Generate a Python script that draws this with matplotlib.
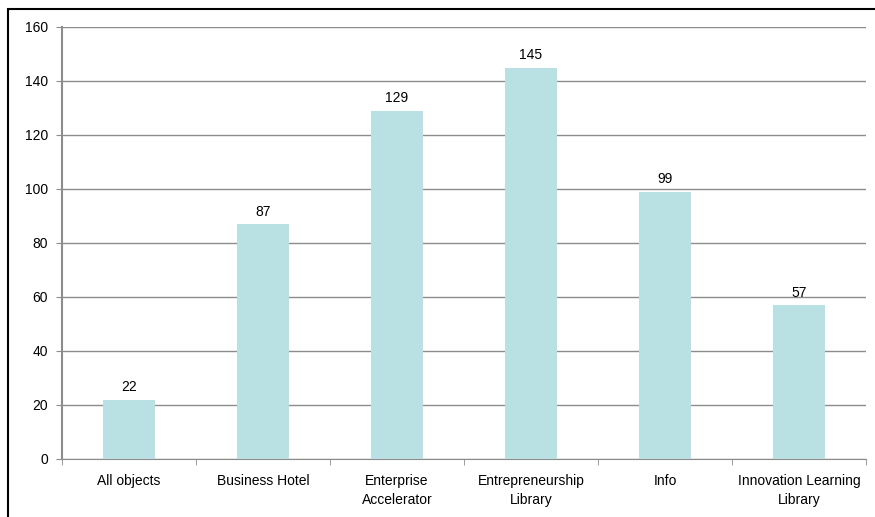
import matplotlib
matplotlib.use("Agg")
import matplotlib.pyplot as plt
from matplotlib.patches import Rectangle
import numpy as np

categories = ["All objects", "Business Hotel", "Enterprise\nAccelerator",
              "Entrepreneurship\nLibrary", "Info", "Innovation Learning\nLibrary"]
values = [22, 87, 129, 145, 99, 57]
yticks = [0, 20, 40, 60, 80, 100, 120, 140, 160]

plt.rcParams['font.family'] = ['Liberation Sans', 'DejaVu Sans']

fig = plt.figure(figsize=(8.75, 5.17), dpi=100)
ax = fig.add_axes([62/875, 1 - 459/517, 804/875, 432/517])

# outer frame (right and bottom edges fall outside the picture)
fig.patches.append(Rectangle((8/875, -0.1), 1.2, 1 - 9/517 + 0.1,
                             transform=fig.transFigure, fill=False,
                             edgecolor="black", linewidth=1.5))

x = np.arange(len(categories))
ax.bar(x, values, width=0.39, color="#B9E0E3", edgecolor="none", zorder=3)

for xi, v in zip(x, values):
    ax.text(xi, v + 2, str(v), ha="center", va="bottom", fontsize=10)

ax.set_xlim(-0.5, len(categories) - 0.5)
ax.set_ylim(0, 160)
ax.set_yticks(yticks)
ax.yaxis.grid(True, color="#8c8c8c", linewidth=1)
ax.set_axisbelow(True)

ax.set_xticks(x)
ax.set_xticklabels(categories, fontsize=10, linespacing=1.4)
ax.set_xticks(np.arange(-0.5, len(categories)), minor=True)
ax.tick_params(axis="x", which="major", length=0, pad=11)
ax.tick_params(axis="x", which="minor", length=4, color="#8c8c8c", direction="out")
ax.tick_params(axis="y", length=4, color="#8c8c8c", labelsize=10, pad=6)

for s in ["top", "right"]:
    ax.spines[s].set_visible(False)
ax.spines["left"].set_color("#8c8c8c")
ax.spines["bottom"].set_color("#8c8c8c")
ax.spines["left"].set_linewidth(1.5)

fig.savefig("out.png", dpi=100)
